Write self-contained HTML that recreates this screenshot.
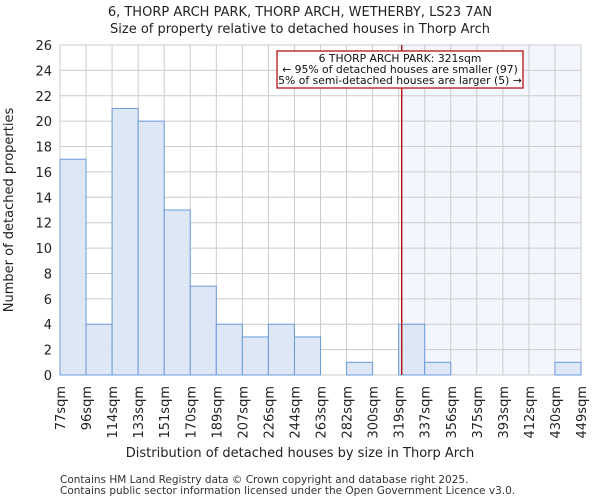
<!DOCTYPE html>
<html><head><meta charset="utf-8"><style>
body{margin:0;background:#fff;font-family:"DejaVu Sans","Liberation Sans",sans-serif;}
</style></head><body>
<svg width="600" height="500" xmlns="http://www.w3.org/2000/svg" font-family="DejaVu Sans, Liberation Sans, sans-serif">
<g id="root"></g>
</svg>
<script>
const binLabels=["77sqm","96sqm","114sqm","133sqm","151sqm","170sqm","189sqm","207sqm","226sqm","244sqm","263sqm","282sqm","300sqm","319sqm","337sqm","356sqm","375sqm","393sqm","412sqm","430sqm","449sqm"];
const counts=[17,4,21,20,13,7,4,3,4,3,0,1,0,4,1,0,0,0,0,1];
const yTicks=[0,2,4,6,8,10,12,14,16,18,20,22,24,26];
const xMin=77, xMax=449, propertySize=321;
const L=60,R=581,T=45,B=375,yMax=26;
const NS="http://www.w3.org/2000/svg";
const root=document.getElementById('root');
function mk(t,a,txt){const e=document.createElementNS(NS,t);for(const k in a)e.setAttribute(k,a[k]);if(txt!=null)e.textContent=txt;root.appendChild(e);return e;}
const n=counts.length,bw=(R-L)/n;
const xs=v=>L+(v-xMin)/(xMax-xMin)*(R-L);
const ys=v=>B-v/yMax*(B-T);
const px=xs(propertySize);
let e=mk('rect',{x:px,y:T,width:R-px,height:B-T,fill:'#f3f6fd'});

yTicks.forEach(t=>{let g=mk('line',{x1:L,x2:R,y1:ys(t),y2:ys(t),stroke:'#cccccc'});

let l=mk('text',{x:L-8,y:ys(t)+5,'text-anchor':'end','font-size':13,fill:'#222'},t);
});
for(let i=0;i<=n;i++){let g=mk('line',{x1:L+i*bw,x2:L+i*bw,y1:T,y2:B,stroke:'#cccccc'});
}
counts.forEach((c,i)=>{if(c<=0)return;
let r=mk('rect',{x:L+i*bw,y:ys(c),width:bw,height:B-ys(c),fill:'#dce6f4',stroke:'#6a9bdc','stroke-width':1,'fill-opacity':0.95});
});
binLabels.forEach((b,i)=>{const x=L+i*bw;
let t=mk('text',{x:0,y:0,'text-anchor':'end','font-size':13,fill:'#222',transform:`translate(${x+5},386) rotate(-90)`},b);
});
e=mk('line',{x1:px,x2:px,y1:T,y2:B,stroke:'#b00000','stroke-width':1.3});

e=mk('rect',{x:277,y:51,width:246,height:37,fill:'#fff',stroke:'#b00000','stroke-width':1.2});

["6 THORP ARCH PARK: 321sqm","← 95% of detached houses are smaller (97)","5% of semi-detached houses are larger (5) →"].forEach((s,i)=>{
let t=mk('text',{x:400,y:62+i*11,'text-anchor':'middle','font-size':10.8,fill:'#111'},s);
});
e=mk('text',{x:300,y:16,'text-anchor':'middle','font-size':13,fill:'#222'},"6, THORP ARCH PARK, THORP ARCH, WETHERBY, LS23 7AN");

e=mk('text',{x:300,y:33,'text-anchor':'middle','font-size':13,fill:'#222'},"Size of property relative to detached houses in Thorp Arch");

e=mk('text',{x:300,y:457,'text-anchor':'middle','font-size':13,fill:'#222'},"Distribution of detached houses by size in Thorp Arch");

e=mk('text',{x:0,y:0,'text-anchor':'middle','font-size':13,fill:'#222',transform:'translate(13,210) rotate(-90)'},"Number of detached properties");

e=mk('text',{x:60,y:483,'font-size':10.5,fill:'#333'},"Contains HM Land Registry data © Crown copyright and database right 2025.");

e=mk('text',{x:60,y:494,'font-size':10.5,fill:'#333'},"Contains public sector information licensed under the Open Government Licence v3.0.");

</script>
</body></html>
